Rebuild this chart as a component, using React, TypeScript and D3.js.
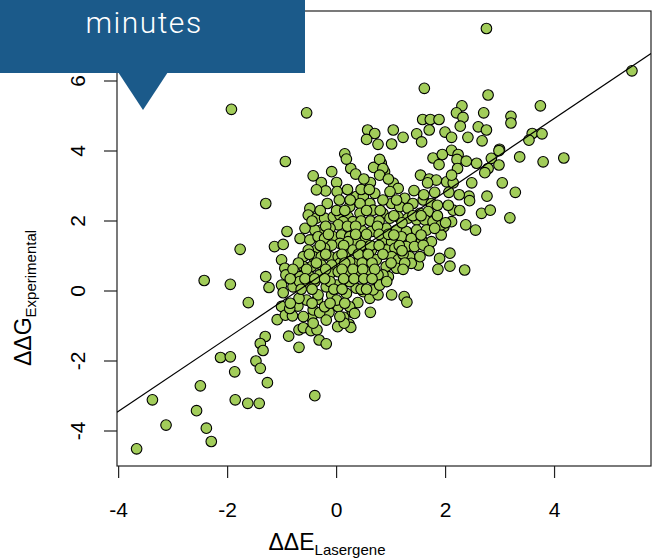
import React from 'react';
import * as d3 from 'd3';

// ΔΔE (Lasergene) vs ΔΔG (experimental)
const xVals = [
  2.75, 5.42, -1.93, -0.55, 1.61, 2.78, 3.74, 2.30, 2.20, 2.70,
  2.32, 1.58, 1.72, 1.88, 3.20, 3.20, 2.27, 2.60, 2.75, 0.57,
  0.70, 1.04, 1.70, 0.55, 1.22, 1.47, 1.56, 1.99, 2.11, 2.41,
  2.67, 0.76, 1.01, 2.99, 2.11, 0.15, 3.59, 3.77, 3.53, 3.36,
  3.79, 4.17, 3.28, 3.18, 2.98, 2.84, 1.77, 1.94, 2.23, 1.88,
  2.21, 2.38, 2.57, 2.22, 2.98, 2.78, 2.72, 1.54, 1.70, 1.83,
  1.67, 2.02, 2.14, 2.11, 2.48, 3.04, 1.42, 1.80, 2.06, 2.43,
  2.76, 2.44, 2.66, 2.82, 2.37, 2.55, 2.14, 2.26, 2.11, 1.97,
  1.92, 1.74, 2.08, 1.89, 2.08, 2.35, 1.86, 1.50, 1.04, 1.13,
  0.98, 0.82, 0.88, 1.25, 1.40, 1.59, 1.74, 1.01, 1.16, 1.31,
  1.53, 1.68, 0.85, 0.98, 1.13, 1.31, 1.47, 1.62, 1.77, 1.92,
  0.91, 1.10, 1.28, 1.47, 1.65, 1.80, 0.85, 1.01, 1.19, 1.37,
  1.56, 0.92, 1.07, 1.28, 1.43, 1.59, 1.01, 1.13, 1.34, 1.53,
  0.91, 1.10, 1.37, 0.95, 0.85, 0.26, 0.35, 0.18, 0.68, 0.62,
  0.79, 0.85, 0.79, 0.36, 0.49, 0.61, 0.43, 0.24, 0.43, 0.67,
  0.70, -0.49, -0.52, -0.37, -0.22, -0.17, -0.06, 0.06, 0.21, 0.30,
  0.12, 0.03, -0.12, -0.28, -0.40, -0.58, -0.67, -0.49, -0.34, -0.22,
  -0.06, 0.09, 0.24, 0.46, 0.64, 0.52, 0.36, 0.21, 0.06, -0.09,
  -0.22, -0.37, -0.52, -0.61, -0.43, -0.28, -0.12, 0.03, 0.18, 0.30,
  0.49, 0.64, 0.73, 0.55, 0.40, 0.24, 0.06, -0.09, -0.28, -0.46,
  -0.61, -0.67, -0.49, -0.31, -0.12, 0.03, 0.21, 0.40, 0.58, 0.76,
  -0.43, -0.28, -0.09, 0.00, 0.01, -0.20, -0.37, -0.94, -1.30, -0.91,
  -1.14, -0.98, -1.01, -0.95, -0.93, -1.30, -1.24, -1.01, -0.98, -1.01,
  -1.09, -1.77, -2.43, -1.95, -1.62, -2.13, -1.95, -1.87, -2.50, -3.38,
  -2.57, -3.13, -2.39, -2.30, -3.67, -1.86, -1.63, -1.42, -0.40, -1.27,
  -1.31, -1.40, -1.35, -1.48, -1.40, -0.88, -0.69, -0.69, -0.61, -0.47,
  -0.36, -0.32, -0.19, 0.02, 0.23, 0.26, 0.62, 1.01, 1.24, 1.29,
  -0.94, -0.81, -0.46, -0.43, -0.14, 0.29, 0.39, 0.13, -0.71, -0.55,
  -0.35, -0.09, 0.03, 0.24, 0.49, 0.61, 0.76, -0.31, -0.22, -0.69,
  -0.80, -0.68, -0.52, -0.34, -0.19, 0.00, 0.18, 0.36, 0.67, 0.79,
  0.24, -0.12, -0.40, -0.86, -0.43, 0.14, -0.19, -0.61, 0.06, 0.00,
  0.33, 0.92,
  // dense core
  -0.30, 0.00, 0.15, 0.55, 0.80, -0.45, 0.45, 0.62, 0.78, -0.20,
  0.20, 0.35, 0.75, -0.15, 0.35, 0.55, 0.78, 0.95, -0.30, 0.13,
  0.45, 0.62, 0.78, 1.15, -0.50, -0.20, 0.10, 0.40, 0.58, 0.85,
  1.22, -0.70, -0.37, 0.15, 0.47, 0.65, 1.00, 1.25, -0.80, -0.55,
  -0.20, 0.10, 0.30, 0.48, 0.70, 1.22, -0.85, -0.58, -0.40, -0.22,
  0.13, 0.32, 0.50, 0.65, -0.65, -0.45, -0.05, 0.10, 0.45, 0.55,
  -0.85, -0.45, -0.12, 0.15, 0.05, 0.25, 0.85, 1.10, 0.20, 0.45,
  0.60, 0.50, 0.95, 1.05, 1.40, 1.55, 1.85, 1.20, 2.00, 1.05,
  1.55, 1.20, 1.70, 1.85, 2.05, 1.60, 2.25,
];

const yVals = [
  7.50, 6.29, 5.19, 5.09, 5.79, 5.60, 5.29, 5.29, 5.09, 5.09,
  4.96, 4.90, 4.90, 4.90, 4.99, 4.80, 4.71, 4.69, 4.60, 4.60,
  4.50, 4.60, 4.60, 4.33, 4.39, 4.49, 4.26, 4.54, 4.39, 4.39,
  4.29, 4.19, 4.20, 4.05, 4.02, 3.92, 4.50, 4.49, 4.31, 3.83,
  3.69, 3.80, 2.82, 2.09, 4.01, 3.79, 3.80, 3.90, 3.90, 3.61,
  3.76, 3.71, 3.65, 3.50, 3.60, 3.50, 3.38, 3.31, 3.20, 3.17,
  3.09, 3.12, 3.09, 3.31, 3.09, 3.09, 2.87, 2.82, 2.82, 2.71,
  2.71, 2.58, 2.22, 2.31, 1.89, 1.74, 2.31, 2.30, 1.98, 1.84,
  1.60, 1.41, 1.08, 0.93, 0.71, 0.60, 0.62, 0.74, 3.08, 2.93,
  2.84, 3.65, 3.41, 2.65, 2.50, 2.60, 2.50, 2.50, 2.41, 2.36,
  2.22, 2.27, 2.22, 2.08, 2.12, 2.08, 2.03, 2.03, 1.98, 1.89,
  1.79, 1.74, 1.70, 1.74, 1.74, 1.79, 1.46, 1.41, 1.55, 1.50,
  1.46, 1.17, 1.22, 1.27, 1.27, 1.31, 0.98, 0.89, 0.98, 0.98,
  0.70, 0.65, 0.79, 0.41, 0.46, 3.50, 3.34, 3.77, 3.53, 3.10,
  3.76, 3.50, 3.31, 2.70, 2.70, 2.50, 2.50, 2.41, 2.22, 2.31,
  2.79, 2.36, 2.17, 2.08, 2.08, 2.50, 2.12, 2.17, 2.12, 1.98,
  1.98, 1.89, 1.79, 1.74, 1.74, 1.79, 1.50, 1.46, 1.55, 1.50,
  1.55, 1.60, 1.55, 1.74, 1.70, 1.46, 1.41, 1.41, 1.36, 1.31,
  1.22, 1.17, 1.17, 0.98, 0.98, 0.98, 0.98, 0.98, 1.12, 1.17,
  1.17, 1.17, 0.89, 0.89, 0.84, 0.84, 0.79, 0.74, 0.74, 0.70,
  0.70, 0.41, 0.41, 0.46, 0.50, 0.55, 0.55, 0.55, 0.55, 0.46,
  3.29, 3.10, 3.41, 3.10, 2.84, 2.86, 2.89, 3.70, 2.50, 1.70,
  1.27, 1.33, 0.89, 0.65, 0.46, 0.41, 0.10, 0.17, -0.05, -0.44,
  -0.82, 1.19, 0.30, 0.19, -0.33, -1.90, -1.88, -2.31, -2.71, -3.11,
  -3.42, -3.83, -3.92, -4.30, -4.51, -3.11, -3.21, -3.21, -2.99, -2.62,
  -1.30, -1.50, -1.70, -2.00, -2.21, -1.29, -1.61, -1.11, -1.05, -1.13,
  -1.11, -1.40, -1.51, -1.02, -0.95, -1.04, -0.61, -0.11, -0.16, -0.32,
  -0.69, -0.71, -0.76, -0.54, -0.61, -0.61, -0.33, -0.75, -0.43, -0.26,
  -0.24, -0.11, -0.45, -0.45, -0.02, -0.21, -0.11, -0.62, -0.45, -0.21,
  0.12, 0.27, 0.17, -0.11, 0.12, 0.17, -0.07, 0.08, 0.03, 0.17,
  0.27, 0.27, 0.27, -0.50, -0.92, -0.92, -0.83, -0.73, -0.73, -0.26,
  -0.64, 0.27,
  // dense core
  2.30, 2.30, 2.30, 2.30, 2.30, 2.00, 2.00, 2.00, 2.00, 1.85,
  1.85, 1.85, 1.85, 1.62, 1.62, 1.62, 1.62, 1.62, 1.30, 1.30,
  1.30, 1.30, 1.30, 1.30, 1.05, 1.05, 1.05, 1.05, 1.05, 1.05,
  1.05, 0.80, 0.80, 0.80, 0.80, 0.80, 0.80, 0.80, 0.62, 0.62,
  0.62, 0.62, 0.62, 0.62, 0.62, 0.62, 0.35, 0.35, 0.35, 0.35,
  0.35, 0.35, 0.35, 0.35, 0.05, 0.05, 0.05, 0.05, 0.05, 0.05,
  -0.35, -0.35, -0.35, -0.35, 2.60, 2.60, 2.60, 2.60, 2.90, 2.90,
  2.90, 3.20, 3.20, 2.15, 2.15, 2.15, 2.15, 1.95, 1.95, 1.60,
  1.60, 1.15, 1.15, 2.45, 2.45, 2.75, 2.75,
];

const xTicks = [-4, -2, 0, 2, 4];
const yTicks = [-4, -2, 0, 2, 4, 6];

// least squares line drawn across the plot
const fitIntercept = 0.75;
const fitSlope = 1.046;

const W = 652;
const H = 558;
const box = { left: 117, right: 651, top: 11, bottom: 466 };

export default function App() {
  const x = d3.scaleLinear().domain([-4.03, 5.77]).range([box.left, box.right]);
  const y = d3.scaleLinear().domain([-5, 8]).range([box.bottom, box.top]);

  const pts = xVals.map((v, i) => [v, yVals[i]]);
  const [x0, x1] = x.domain();
  const fitLine = d3.line<number>()
    .x(d => x(d))
    .y(d => y(fitIntercept + fitSlope * d))([x0, x1]);

  const font = "'Liberation Sans', Arial, sans-serif";

  return (
    <svg width={W} height={H} style={{ position: 'absolute', left: 0, top: 0 }} fontFamily={font}>
      <defs>
        <clipPath id="plotclip">
          <rect x={box.left} y={box.top} width={box.right - box.left} height={box.bottom - box.top} />
        </clipPath>
      </defs>
      <rect x={box.left} y={box.top} width={box.right - box.left} height={box.bottom - box.top}
        fill="none" stroke="#222" strokeWidth={1.2} />

      <g clipPath="url(#plotclip)">
        {pts.map((p, i) => (
          <circle key={i} cx={x(p[0])} cy={y(p[1])} r={5.3}
            fill="#a2cd5a" stroke="#000" strokeWidth={1.1} />
        ))}
        <path d={fitLine || ''} fill="none" stroke="#000" strokeWidth={1.2} />
      </g>

      {/* x axis */}
      <g>
        {xTicks.map(t => (
          <g key={t}>
            <line x1={x(t)} x2={x(t)} y1={box.bottom} y2={box.bottom + 12} stroke="#222" strokeWidth={1.2} />
            <text x={x(t)} y={517} textAnchor="middle" fontSize={21}>{t}</text>
          </g>
        ))}
      </g>

      {/* y axis */}
      <g>
        {yTicks.map(t => (
          <g key={t}>
            <line x1={box.left - 13} x2={box.left} y1={y(t)} y2={y(t)} stroke="#222" strokeWidth={1.2} />
            <text transform={`translate(85,${y(t)}) rotate(-90)`} textAnchor="middle" fontSize={21}>{t}</text>
          </g>
        ))}
      </g>

      <text x={327} y={550} textAnchor="middle" fontSize={23}>
        ΔΔE<tspan fontSize={15} dy={5}>Lasergene</tspan>
      </text>
      <text transform="translate(31,298) rotate(-90)" textAnchor="middle" fontSize={23}>
        ΔΔG<tspan fontSize={15} dy={5}>Experimental</tspan>
      </text>

      {/* banner */}
      <rect x={0} y={0} width={305} height={73} fill="#1b5a8a" />
      <path d="M118,72 L168,72 L143,110 Z" fill="#1b5a8a" />
      <text x={144} y={33} textAnchor="middle" fill="#fff" fontFamily="Roboto, sans-serif"
        fontWeight={300} fontSize={30} letterSpacing={1.5}>minutes</text>
    </svg>
  );
}
